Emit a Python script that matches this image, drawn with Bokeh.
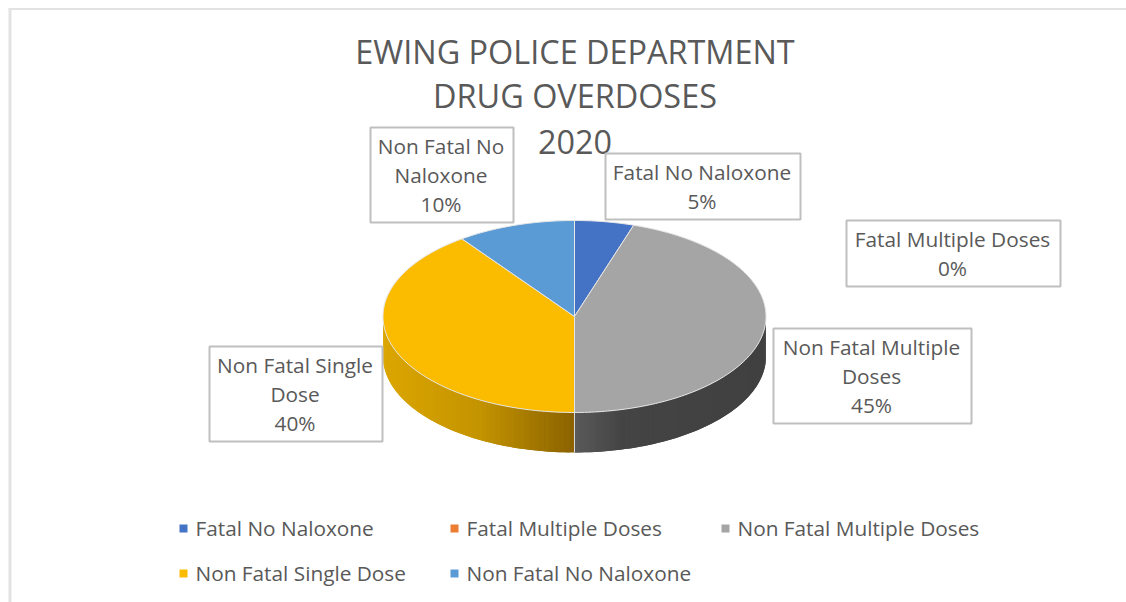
import math
from bokeh.plotting import figure
from bokeh.embed import file_html
from bokeh.resources import INLINE
from bokeh.core.properties import value

TITLE_LINES = ["EWING POLICE DEPARTMENT", "DRUG OVERDOSES", "2020"]
CATEGORIES = ["Fatal No Naloxone", "Fatal Multiple Doses", "Non Fatal Multiple Doses",
              "Non Fatal Single Dose", "Non Fatal No Naloxone"]
PERCENTS = [5, 0, 45, 40, 10]
COLORS = ["#4472C4", "#ED7D31", "#A5A5A5", "#FBBC00", "#5B9BD5"]
LABEL_LINES = [["Fatal No Naloxone"], ["Fatal Multiple Doses"], ["Non Fatal Multiple", "Doses"],
               ["Non Fatal Single", "Dose"], ["Non Fatal No", "Naloxone"]]
LABEL_BOXES = [(605, 800, 153, 219), (846, 1060, 220, 286), (773, 971, 328, 423),
               (209, 382, 346, 441), (370, 513, 127, 222)]
LEGEND_POS = [(179, 527), (450, 527), (721, 527), (179, 572), (450, 572)]

# Side shading of the pie, keyed by fraction along the visible rim (left to right on screen)
SIDE_STOPS = {
    2: [(0.0, (90, 90, 90)), (0.25, (68, 68, 68)), (1.0, (64, 64, 64))],
    3: [(0.0, (220, 166, 0)), (0.5, (196, 148, 0)), (1.0, (138, 98, 0))],
}

FONT = "Open Sans"
TEXT_COLOR = "#595959"
CX, CY, RX, RY, DEPTH = 574, 316, 191.5, 96, 40

p = figure(width=1126, height=602, x_range=(0, 1126), y_range=(602, 0),
           output_backend="svg", toolbar_location=None, min_border=0)
p.axis.visible = False
p.grid.visible = False
p.outline_line_color = None
p.background_fill_color = "white"
p.border_fill_color = "white"

# frame fragments
p.segment(x0=[8], y0=[8.5], x1=[1126], y1=[8.5], line_color="#D9D9D9", line_width=1.5)
p.segment(x0=[9.5], y0=[8], x1=[9.5], y1=[602], line_color="#E3E3E3", line_width=3)


def rim(t):
    return CX + RX * math.sin(t), CY - RY * math.cos(t)


def shade(stops, f):
    for (a, ca), (b, cb) in zip(stops, stops[1:]):
        if f <= b:
            k = (f - a) / (b - a)
            return "#%02x%02x%02x" % tuple(round(x + (y - x) * k) for x, y in zip(ca, cb))
    return "#%02x%02x%02x" % stops[-1][1]


# slice angles come from the values (clockwise from 12 o'clock)
total = sum(PERCENTS)
bounds, acc = [], 0
for v in PERCENTS:
    bounds.append((acc / total * 2 * math.pi, (acc + v) / total * 2 * math.pi))
    acc += v

# side wall: each strip overlaps the next one so no seams show
for i, (a0, a1) in enumerate(bounds):
    lo, hi = max(a0, math.pi / 2), min(a1, 3 * math.pi / 2)
    if hi <= lo or i not in SIDE_STOPS:
        continue
    n = max(2, int((hi - lo) / math.radians(1.5)))
    left_x = min(rim(lo)[0], rim(hi)[0])
    right_x = max(rim(lo)[0], rim(hi)[0])
    sx, sy, sc = [], [], []
    for k in range(n):
        t0, t1 = lo + (hi - lo) * k / n, lo + (hi - lo) * (k + 2) / n
        t1 = min(t1, hi)
        tm = lo + (hi - lo) * (k + 0.5) / n
        ts = [t0 + (t1 - t0) * j / 2 for j in range(3)]
        top = [rim(t) for t in ts]
        sx.append([q[0] for q in top] + [q[0] for q in reversed(top)])
        sy.append([q[1] for q in top] + [q[1] + DEPTH for q in reversed(top)])
        sc.append(shade(SIDE_STOPS[i], (rim(tm)[0] - left_x) / (right_x - left_x)))
    p.patches(sx, sy, fill_color=sc, line_color=None)

# edges of the side wall
p.segment(x0=[CX], y0=[CY + RY], x1=[CX], y1=[CY + RY + DEPTH], line_color="#D8D8D8", line_width=1)

# top face
for (a0, a1), v, c in zip(bounds, PERCENTS, COLORS):
    if v == 0:
        continue
    n = max(4, int((a1 - a0) / math.radians(1)))
    pts = [rim(a0 + (a1 - a0) * k / n) for k in range(n + 1)]
    xs = [CX] + [q[0] for q in pts]
    ys = [CY] + [q[1] for q in pts]
    p.patch(xs, ys, fill_color=c, line_color="#E6E6E6", line_width=1)

# title
p.text(x=[574.5] * 3, y=[50.5, 94.5, 141.5], text=TITLE_LINES, text_font=value(FONT), text_font_size="32.4px",
       text_color=TEXT_COLOR, text_align="center", text_baseline="middle")

# data labels
for lines, v, (l, r, t, b) in zip(LABEL_LINES, PERCENTS, LABEL_BOXES):
    p.quad(left=[l], right=[r], top=[t], bottom=[b], fill_color=None, line_color="#BFBFBF", line_width=2)
    rows = lines + [f"{v}%"]
    step = 29
    first = (t + b) / 2 - step * (len(rows) - 1) / 2
    p.text(x=[(l + r) / 2 - 1] * len(rows), y=[first + step * k - 0.5 for k in range(len(rows))], text=rows,
           text_font=value(FONT), text_font_size="20.8px", text_color=TEXT_COLOR,
           text_align="center", text_baseline="middle")

# legend
for name, c, (x, y) in zip(CATEGORIES, COLORS, LEGEND_POS):
    p.rect(x=[x + 4], y=[y + 1], width=8, height=8, fill_color=c, line_color=None)
    p.text(x=[x + 16], y=[y], text=[name], text_font=value(FONT), text_font_size="20.8px",
           text_color=TEXT_COLOR, text_align="left", text_baseline="middle")

open("out.html", "w").write(file_html(p, INLINE))
